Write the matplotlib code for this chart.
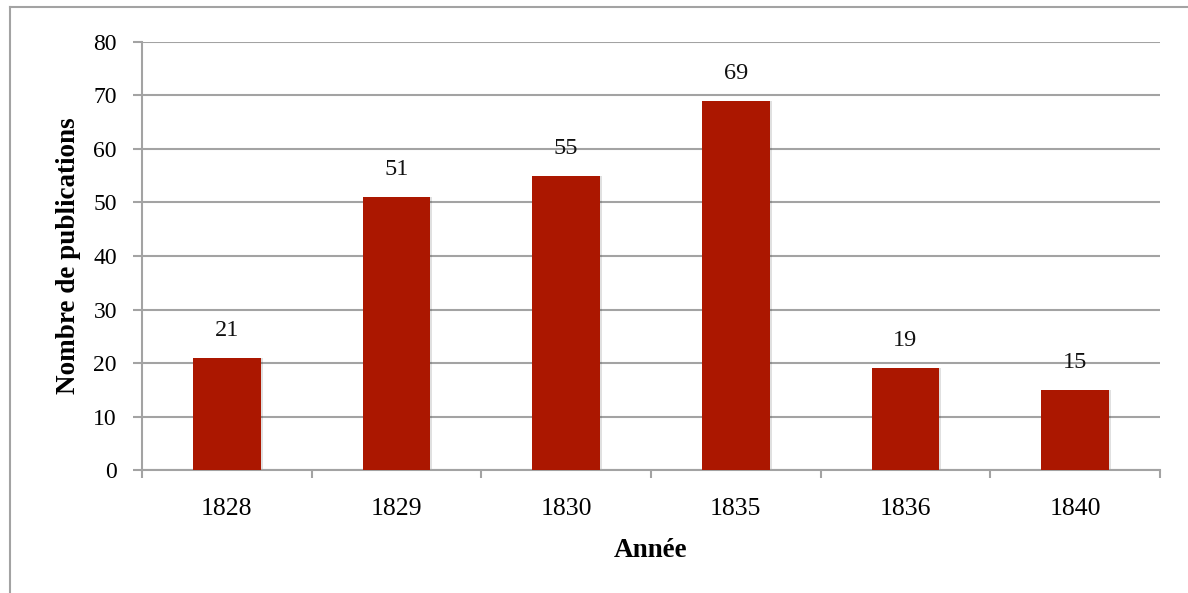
import matplotlib
matplotlib.use("Agg")
import matplotlib.pyplot as plt
from matplotlib.lines import Line2D
import numpy as np

years = ["1828", "1829", "1830", "1835", "1836", "1840"]
publications = [21, 51, 55, 69, 19, 15]
y_ticks = [0, 10, 20, 30, 40, 50, 60, 70, 80]

plt.rcParams["font.family"] = ["Liberation Serif", "DejaVu Serif"]

bar_color = "#AB1700"
grid_color = "#A3A3A3"

fig = plt.figure(figsize=(11.88, 5.93), dpi=100)
ax = fig.add_axes([0.1195, 0.2074, 0.8569, 0.7218])

x = np.arange(len(years))
# soft shadow behind bars
ax.bar(x + 0.012, publications, width=0.4, color="#000000", alpha=0.12, zorder=2)
bars = ax.bar(x, publications, width=0.4, color=bar_color, zorder=3)

for xi, v in zip(x, publications):
    ax.text(xi, v + 3.2, str(v), ha="center", va="bottom", fontsize=17.5, color="#111111")

ax.set_xlim(-0.5, len(years) - 0.5)
ax.set_ylim(0, 80)
ax.set_yticks(y_ticks)
ax.set_yticklabels([str(t) for t in y_ticks], fontsize=17)
ax.set_xticks(x)
ax.set_xticklabels(years, fontsize=18.5)
ax.set_xticks(np.arange(len(years) + 1) - 0.5, minor=True)

ax.tick_params(axis="x", which="major", length=0, pad=20)
ax.tick_params(axis="x", which="minor", length=6, width=1.5, color=grid_color, direction="out")
ax.tick_params(axis="y", which="major", length=6.5, width=1.5, color=grid_color, direction="out", pad=11.5)

ax.yaxis.grid(True, color=grid_color, linewidth=1.5, zorder=0)
ax.set_axisbelow(True)
for s in ["top", "right"]:
    ax.spines[s].set_visible(False)
for s in ["left", "bottom"]:
    ax.spines[s].set_color(grid_color)
    ax.spines[s].set_linewidth(1.5)

ax.set_ylabel("Nombre de publications", fontsize=19.5, fontweight="bold", labelpad=9)
ax.set_xlabel("Année", fontsize=19.5, fontweight="bold", labelpad=13)

# outer frame (left and top edges)
fig.add_artist(Line2D([10 / 1188, 10 / 1188], [0, 1 - 7 / 593], transform=fig.transFigure,
                      color=grid_color, linewidth=1.5))
fig.add_artist(Line2D([10 / 1188, 1], [1 - 7 / 593, 1 - 7 / 593], transform=fig.transFigure,
                      color=grid_color, linewidth=1.5))

fig.savefig("out.png", dpi=100)
